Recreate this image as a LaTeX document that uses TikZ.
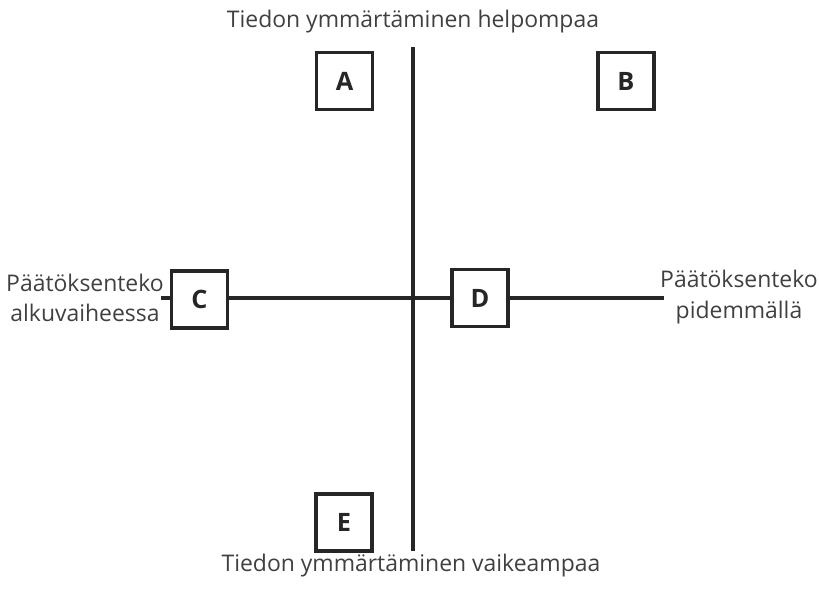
\documentclass[tikz,border=0pt]{standalone}
\usepackage{fontspec}
\setmainfont{Open Sans}
\begin{document}
\begin{tikzpicture}[x=0.75pt,y=-0.75pt,
  box/.style={draw=black!85,line width=2.3pt,minimum width=56*0.75pt,minimum height=57*0.75pt,inner sep=0pt,font=\fontsize{19}{22}\selectfont\bfseries,text=black!85},
  lbl/.style={font=\fontsize{17.2}{23}\selectfont,text=black!75,inner sep=0pt,align=center},
  axis/.style={draw=black!85,line width=2.3pt}]
\useasboundingbox (0,0) rectangle (819,589);
\node[lbl] (top) at (413,22) {Tiedon ymmärtäminen helpompaa};
\node[lbl] (bot) at (411,566) {Tiedon ymmärtäminen vaikeampaa};
\node[lbl] (left) at (85,298) {Päätöksenteko\\alkuvaiheessa};
\node[lbl] (right) at (739,297) {Päätöksenteko\\pidemmällä};
\coordinate (vt) at (413,47);
\coordinate (vb) at (413,551);
\coordinate (hl) at (161,298);
\coordinate (hr) at (664,298);
\draw[axis] (vt) -- (vb);
\draw[axis] (hl) -- (hr);
\node[box,fill=white] (A) at (344.5,81) {A};
\node[box,fill=white] (B) at (626,81) {B};
\node[box,fill=white] (C) at (199.5,299.5) {C};
\node[box,fill=white] (D) at (480,298) {D};
\node[box,fill=white] (E) at (344,522.5) {E};
\end{tikzpicture}
\end{document}
